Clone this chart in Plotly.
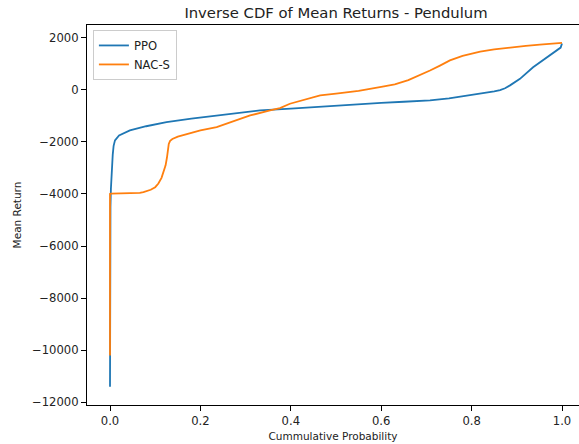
import plotly.graph_objects as go

# PPO inverse CDF (cumulative probability -> mean return)
ppo_p = [0, 0, 0.001, 0.002, 0.004, 0.006, 0.008, 0.011, 0.02, 0.044, 0.08, 0.125, 0.18,
         0.236, 0.29, 0.332, 0.4, 0.47, 0.531, 0.6, 0.65, 0.708, 0.75, 0.796, 0.83, 0.85, 0.863,
         0.874, 0.885, 0.907, 0.936, 0.966, 0.988, 0.997, 1.0]
ppo_r = [-11400, -6000, -4500, -3800, -3000, -2500, -2150, -1940, -1750, -1560, -1400, -1240, -1110,
         -985, -870, -793, -720, -640, -560, -500, -460, -410, -330, -218, -120, -60, -10,
         60, 170, 420, 866, 1250, 1505, 1620, 1780]

# NAC-S inverse CDF
nac_p = [0, 0, 0.002, 0.03, 0.066, 0.074, 0.082, 0.09, 0.1, 0.107, 0.114, 0.119, 0.123,
         0.126, 0.128, 0.13, 0.133, 0.138, 0.15, 0.169, 0.2, 0.236, 0.27, 0.31, 0.354, 0.376,
         0.398, 0.43, 0.465, 0.5, 0.531, 0.55, 0.6, 0.63, 0.66, 0.686, 0.708, 0.73, 0.752,
         0.78, 0.819, 0.85, 0.885, 0.92, 0.951, 0.98, 1.0]
nac_r = [-10200, -4000, -3990, -3980, -3960, -3930, -3890, -3840, -3740, -3600, -3380, -3150, -2900,
         -2600, -2300, -2080, -1960, -1890, -1800, -1700, -1560, -1430, -1230, -985, -793, -700,
         -536, -370, -218, -150, -92, -40, 110, 210, 370, 560, 740, 930, 1130,
         1300, 1467, 1550, 1630, 1690, 1735, 1770, 1800]

x_ticks = [0.0, 0.2, 0.4, 0.6, 0.8, 1.0]
x_labels = ["0.0", "0.2", "0.4", "0.6", "0.8", "1.0"]
y_ticks = [-12000, -10000, -8000, -6000, -4000, -2000, 0, 2000]
y_labels = ["\u221212000", "\u221210000", "\u22128000", "\u22126000", "\u22124000", "\u22122000", "0", "2000"]

FONT = "DejaVu Sans"
fig = go.Figure()
fig.add_trace(go.Scatter(x=ppo_p, y=ppo_r, mode="lines", name="PPO",
                         line=dict(color="#1f77b4", width=1.8)))
fig.add_trace(go.Scatter(x=nac_p, y=nac_r, mode="lines", name="NAC-S",
                         line=dict(color="#ff7f0e", width=1.8)))

fig.update_layout(
    width=579, height=444,
    margin=dict(l=87, r=0, t=25, b=39, autoexpand=False),
    paper_bgcolor="white", plot_bgcolor="white",
    font=dict(family=FONT, size=11.6, color="#222222"),
    title=dict(text="Inverse CDF of Mean Returns - Pendulum", x=336 / 579, xanchor="center",
               y=1 - 13 / 444, yanchor="middle", font=dict(size=14.8, color="#222222")),
    legend=dict(x=0.012, y=0.987, xanchor="left", yanchor="top",
                bordercolor="#cccccc", borderwidth=1, bgcolor="rgba(255,255,255,0.8)",
                font=dict(size=11.6), itemwidth=30),
    xaxis=dict(range=[-0.0509, 1.0376], tickvals=x_ticks, ticktext=x_labels,
               showgrid=False, zeroline=False, showline=True, linecolor="black", linewidth=1.2,
               mirror=True, ticks="outside", ticklen=5, tickcolor="black",
               title=dict(text="Cummulative Probability", standoff=5, font=dict(size=10.5))),
    yaxis=dict(range=[-12104, 2488], tickvals=y_ticks, ticktext=y_labels,
               showgrid=False, zeroline=False, showline=True, linecolor="black", linewidth=1.2,
               ticks="outside", ticklen=5, tickcolor="black",
               title=dict(text="Mean Return", standoff=8, font=dict(size=10.5))),
)

fig.write_html("out.html", config={"displayModeBar": False},
               post_script="document.body.style.margin='0';")
